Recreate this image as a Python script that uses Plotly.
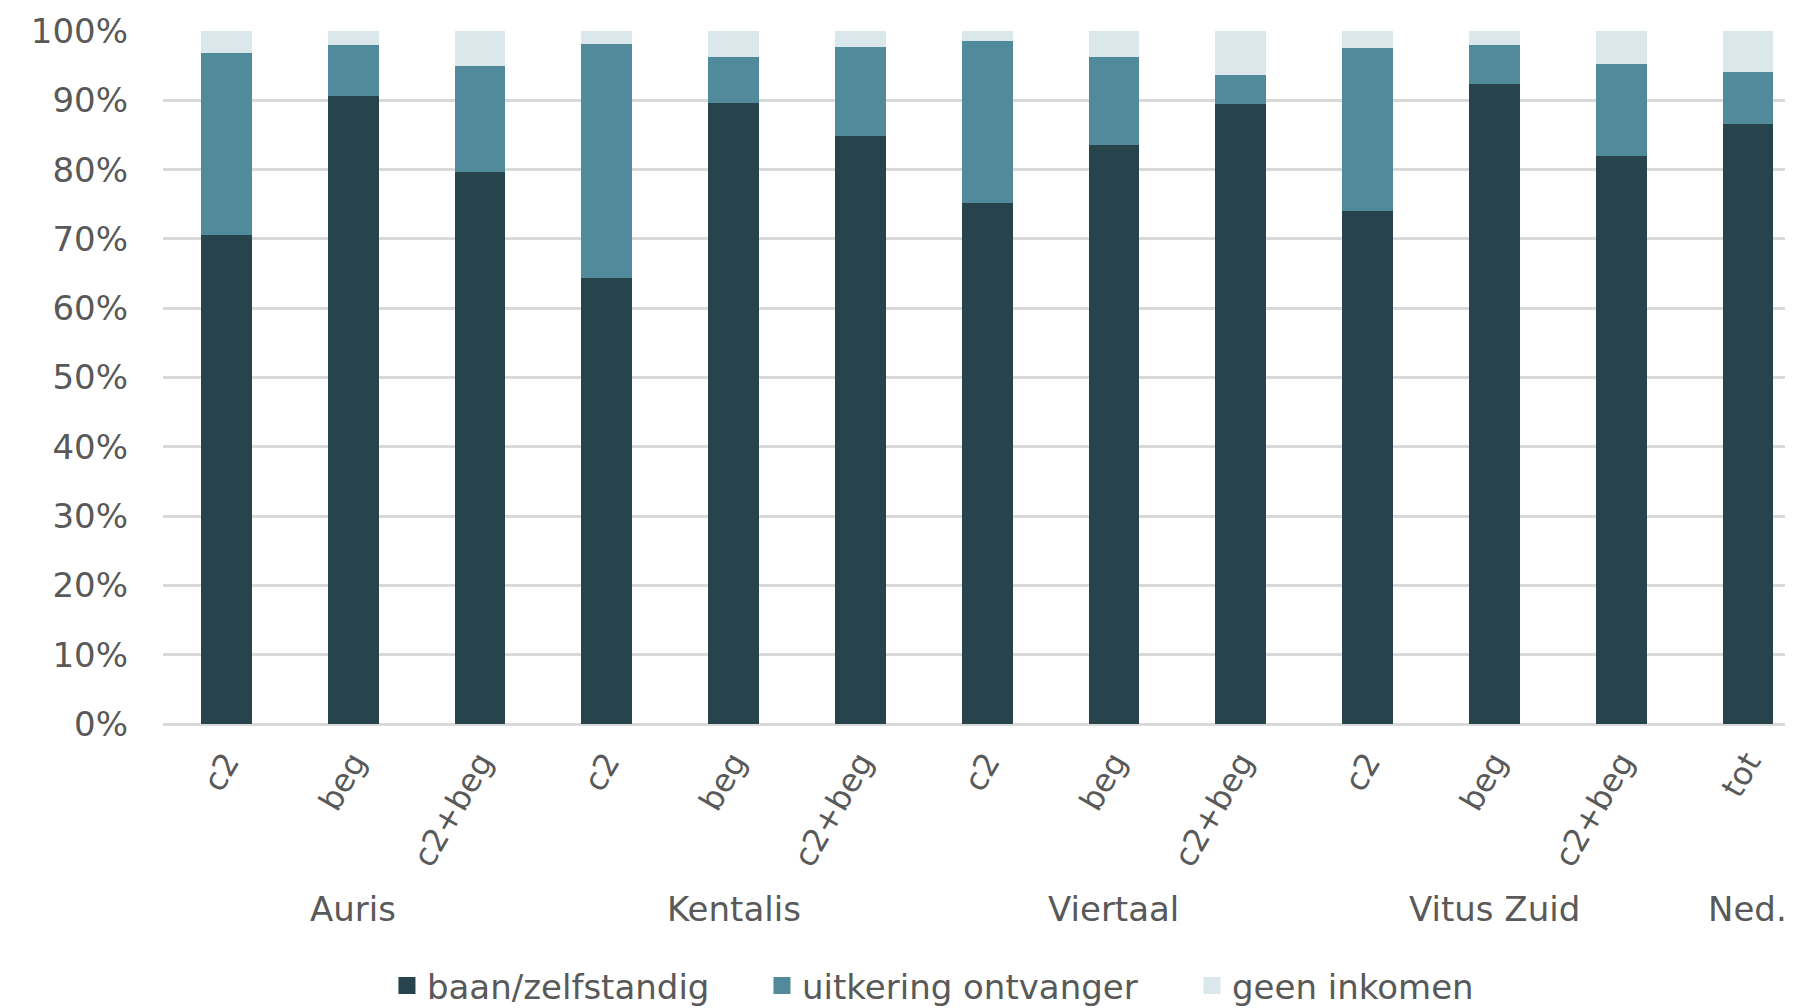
import plotly.graph_objects as go

tick_labels = ["c2", "beg", "c2+beg", "c2", "beg", "c2+beg", "c2", "beg", "c2+beg",
               "c2", "beg", "c2+beg", "tot"]
groups = ["Auris", "Kentalis", "Viertaal", "Vitus Zuid", "Ned."]
group_centers = [1, 4, 7, 10, 12]

baan = [70.6, 90.6, 79.7, 64.3, 89.6, 84.9, 75.2, 83.5, 89.5, 74.0, 92.3, 82.0, 86.6]
uitkering = [26.2, 7.4, 15.2, 33.8, 6.7, 12.8, 23.4, 12.7, 4.2, 23.5, 5.7, 13.3, 7.5]
geen = [3.2, 2.0, 5.1, 1.9, 3.7, 2.3, 1.4, 3.8, 6.3, 2.5, 2.0, 4.7, 5.9]

series_names = ["baan/zelfstandig", "uitkering ontvanger", "geen inkomen"]
colors = ["#27444D", "#518A9A", "#DAE8EC"]
legend_ids = ["legend", "legend2", "legend3"]
legend_x = [0.2123, 0.4224, 0.6633]

x = list(range(len(tick_labels)))
FONT = "DejaVu Sans"
TXT = "#595959"
FS = 34

fig = go.Figure()
for name, vals, col in zip(series_names, [baan, uitkering, geen], colors):
    fig.add_trace(go.Bar(x=x, y=vals, name=name, showlegend=False, legendgroup=name,
                         marker=dict(color=col, line=dict(width=0))))
# legend entries (larger square symbols, as in the original legend)
for name, col, lid in zip(series_names, colors, legend_ids):
    fig.add_trace(go.Bar(x=[None], y=[None], name=name, legend=lid, legendgroup=name,
                         showlegend=True, marker=dict(color=col, line=dict(width=5, color=col))))

for g, c in zip(groups, group_centers):
    fig.add_annotation(x=c, xref="x", y=-0.267, yref="paper", text=g, showarrow=False,
                       font=dict(family=FONT, size=FS, color=TXT), yanchor="middle")

leg_common = dict(orientation="h", xref="container", yref="container", y=0.022,
                  yanchor="middle", xanchor="left", bgcolor="rgba(0,0,0,0)",
                  font=dict(family=FONT, size=FS, color=TXT), itemclick=False,
                  itemdoubleclick=False)

fig.update_layout(
    barmode="stack",
    bargap=0.6,
    width=1785, height=1000,
    margin=dict(l=155, r=0, t=23, b=284, autoexpand=False),
    paper_bgcolor="white", plot_bgcolor="white",
    font=dict(family=FONT, size=FS, color=TXT),
    showlegend=True,
    legend=dict(x=legend_x[0], **leg_common),
    legend2=dict(x=legend_x[1], **leg_common),
    legend3=dict(x=legend_x[2], **leg_common),
    xaxis=dict(tickmode="array", tickvals=x, ticktext=tick_labels, tickangle=-60,
               range=[-0.5, 12.355], showgrid=False, showline=False, zeroline=False,
               ticks="", ticklabelstandoff=12, automargin=False,
               tickfont=dict(family=FONT, size=32, color=TXT)),
    yaxis=dict(range=[0, 100], dtick=10, ticksuffix="%", showgrid=True,
               gridcolor="#D9D9D9", gridwidth=2.5, zeroline=True, zerolinecolor="#D9D9D9",
               zerolinewidth=2.5, ticks="", ticklabelstandoff=34, automargin=False,
               tickfont=dict(family=FONT, size=FS, color=TXT)),
)

fig.write_html("out.html")
